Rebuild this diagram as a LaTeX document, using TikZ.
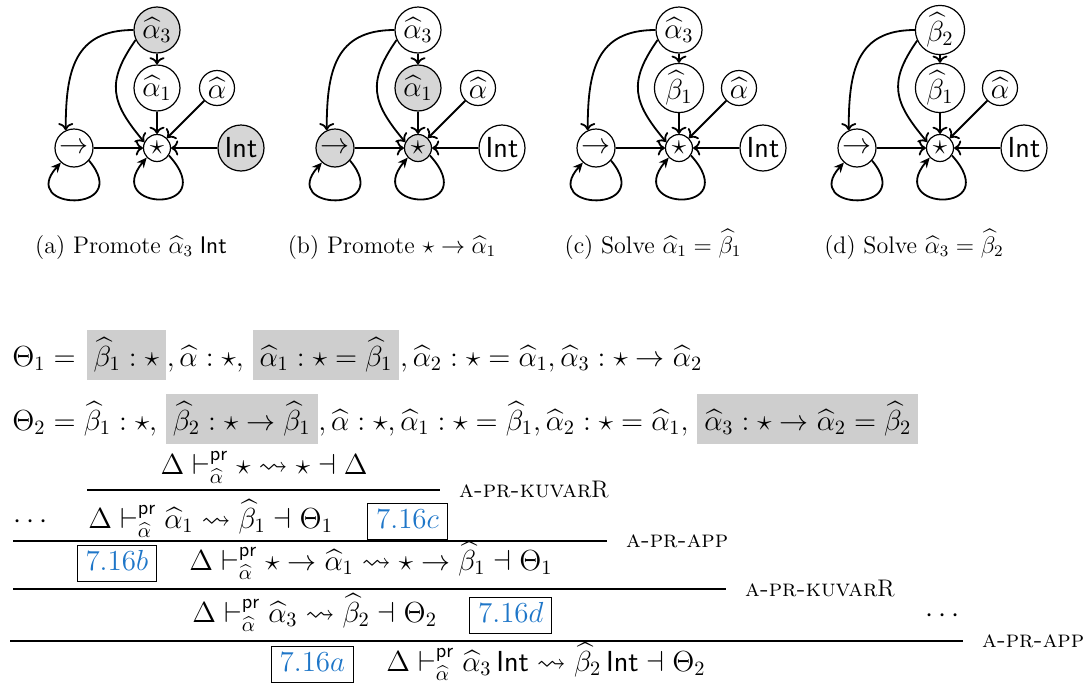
\RequirePackage{fix-cm}
\documentclass[tikz,border=0pt]{standalone}
\usepackage{amsmath,amssymb}
\usepackage{fontspec}
\usetikzlibrary{arrows.meta,positioning}

\definecolor{hlgray}{RGB}{206,206,206}
\definecolor{nodegray}{RGB}{214,214,214}
\definecolor{refblue}{RGB}{30,118,200}
\newcommand{\prvd}{\vdash^{\mathsf{pr}}_{\widehat{\alpha}}}

\begin{document}
\begin{tikzpicture}[
        x=0.5pt, y=0.5pt,
        >=To,
        vtx/.style={
          circle,
          draw,
          line width=0.6pt,
          inner sep=1pt,
          font=\fontsize{14.5}{17}\selectfont
        },
        dep/.style={->, line width=0.9pt},
        selfdep/.style={-{Stealth[length=5pt,width=4.5pt]}, line width=0.9pt},
        frm/.style={inner sep=0pt, font=\fontsize{14.5}{17}\selectfont},
        hl/.style={
          frm,
          fill=hlgray,
          inner xsep=3.5pt,
          inner ysep=2pt,
          text height=16pt,
          text depth=5pt,
          anchor=base west
        },
        refbox/.style={
          frm,
          draw,
          line width=0.5pt,
          text=refblue,
          inner xsep=4.2pt,
          inner ysep=2.7pt,
          text height=9.5pt,
          text depth=3pt
        },
        infer/.style={line width=0.7pt},
        rulename/.style={anchor=west, font=\fontsize{12}{14}\selectfont},
        capt/.style={anchor=base, font=\fontsize{12}{14}\selectfont}
      ]
      \useasboundingbox (0,0) rectangle (1089,-686);

      % the four constraint graphs
      \foreach \g/\x/\tl/\ml/\cT/\cM/\cR/\cS/\cI/\capt in {
          a/157/\widehat{\alpha}_3/\widehat{\alpha}_1/nodegray/white/white/white/nodegray/{Promote $\widehat{\alpha}_3\;\mathsf{Int}$},
          b/418/\widehat{\alpha}_3/\widehat{\alpha}_1/white/nodegray/nodegray/nodegray/white/{Promote $\star \to \widehat{\alpha}_1$},
          c/679/\widehat{\alpha}_3/\widehat{\beta}_1/white/white/white/white/white/{Solve $\widehat{\alpha}_1 = \widehat{\beta}_1$},
          d/940/\widehat{\beta}_2/\widehat{\beta}_1/white/white/white/white/white/{Solve $\widehat{\alpha}_3 = \widehat{\beta}_2$}} {
        \node[vtx, fill=\cT, minimum size=23pt] (t\g) at (\x,-30) {$\tl$};
        \node[vtx, fill=\cM, minimum size=23pt] (m\g) at (\x,-88) {$\ml$};
        \node[vtx, minimum size=17.5pt] (h\g) at (\x+60,-88) {$\widehat{\alpha}$};
        \node[vtx, fill=\cS, minimum size=13.5pt] (s\g) at (\x,-148) {$\star$};
        \node[vtx, fill=\cR, minimum size=19pt] (r\g) at (\x-83,-148) {$\rightarrow$};
        \node[vtx, fill=\cI, minimum size=23pt] (i\g) at (\x+84,-148) {$\mathsf{Int}$};
        \node[capt] (cap\g) at (\x-26,-253) {(\g) \capt};

        \draw[dep] (t\g) -- (m\g);
        \draw[dep] (m\g) -- (s\g);
        \draw[dep] (h\g) -- (s\g);
        \draw[dep] (i\g) -- (s\g);
        \draw[dep] (r\g) -- (s\g);
        \draw[dep] (t\g.west) to[out=180, in=90, looseness=1.25] (r\g.115);
        \draw[dep] (t\g.205) to[out=235, in=130, looseness=1.3] (s\g.155);
        \draw[selfdep] (r\g.-40) .. controls +(-50:70) and +(228:65) .. (r\g.228);
        \draw[selfdep] (s\g.-32) .. controls +(-48:80) and +(230:70) .. (s\g.223);
      }

      % contexts
      \node[frm, anchor=base west] (th1) at (12,-366) {$\Theta_1 =$};
      \node[hl] (hb1) at ([xshift=5pt]th1.base east) {$\widehat{\beta}_1 : \star$};
      \node[frm, anchor=base west] (th1b) at (hb1.base east) {$, \widehat{\alpha} : \star,$};
      \node[hl] (ha1) at ([xshift=4pt]th1b.base east) {$\widehat{\alpha}_1 : \star = \widehat{\beta}_1$};
      \node[frm, anchor=base west] (th1c) at (ha1.base east)
        {$, \widehat{\alpha}_2 : \star = \widehat{\alpha}_1, \widehat{\alpha}_3 : \star \to \widehat{\alpha}_2$};

      \node[frm, anchor=base west] (th2) at (12,-430) {$\Theta_2 = \widehat{\beta}_1 : \star,$};
      \node[hl] (hb2) at ([xshift=4pt]th2.base east) {$\widehat{\beta}_2 : \star \to \widehat{\beta}_1$};
      \node[frm, anchor=base west] (th2b) at (hb2.base east)
        {$, \widehat{\alpha} : \star, \widehat{\alpha}_1 : \star = \widehat{\beta}_1, \widehat{\alpha}_2 : \star = \widehat{\alpha}_1,$};
      \node[hl] (ha3) at ([xshift=4pt]th2b.base east) {$\widehat{\alpha}_3 : \star \to \widehat{\alpha}_2 = \widehat{\beta}_2$};

      % derivation
      \node[frm, anchor=base] (j1) at (264,-474) {$\Delta \prvd \star \leadsto \star \dashv \Delta$};
      \coordinate (r1a) at (87,-490);
      \coordinate (r1b) at (440,-490);
      \draw[infer] (r1a) -- (r1b);
      \node[rulename, right=6pt of r1b] (n1) {\textsc{a-pr-kuvar}R};

      \node[frm, anchor=base] (dl) at (33,-528) {$\cdots$};
      \node[frm, anchor=base west] (j2) at (88,-528)
        {$\Delta \prvd \widehat{\alpha}_1 \leadsto \widehat{\beta}_1 \dashv \Theta_1$};
      \node[refbox, anchor=base west] (rc) at ([xshift=17pt]j2.base east) {$7.16c$};
      \coordinate (r2a) at (13,-541);
      \coordinate (r2b) at (607,-541);
      \draw[infer] (r2a) -- (r2b);
      \node[rulename, right=6pt of r2b] (n2) {\textsc{a-pr-app}};

      \node[frm, anchor=base west] (j3) at (189,-570)
        {$\Delta \prvd \star \to \widehat{\alpha}_1 \leadsto \star \to \widehat{\beta}_1 \dashv \Theta_1$};
      \node[refbox, anchor=base east] (rb) at ([xshift=-16pt]j3.base west) {$7.16b$};
      \coordinate (r3a) at (13,-589);
      \coordinate (r3b) at (726,-589);
      \draw[infer] (r3a) -- (r3b);
      \node[rulename, right=6pt of r3b] (n3) {\textsc{a-pr-kuvar}R};

      \node[frm, anchor=base west] (j4) at (192,-622)
        {$\Delta \prvd \widehat{\alpha}_3 \leadsto \widehat{\beta}_2 \dashv \Theta_2$};
      \node[refbox, anchor=base west] (rd) at ([xshift=16pt]j4.base east) {$7.16d$};
      \node[frm, anchor=base] (dr) at (945,-622) {$\cdots$};
      \coordinate (r4a) at (10,-641);
      \coordinate (r4b) at (963,-641);
      \draw[infer] (r4a) -- (r4b);
      \node[rulename, right=6pt of r4b] (n4) {\textsc{a-pr-app}};

      \node[frm, anchor=base west] (j5) at (386,-671)
        {$\Delta \prvd \widehat{\alpha}_3\,\mathsf{Int} \leadsto \widehat{\beta}_2\,\mathsf{Int} \dashv \Theta_2$};
      \node[refbox, anchor=base east] (ra) at ([xshift=-16pt]j5.base west) {$7.16a$};
    \end{tikzpicture}
\end{document}
